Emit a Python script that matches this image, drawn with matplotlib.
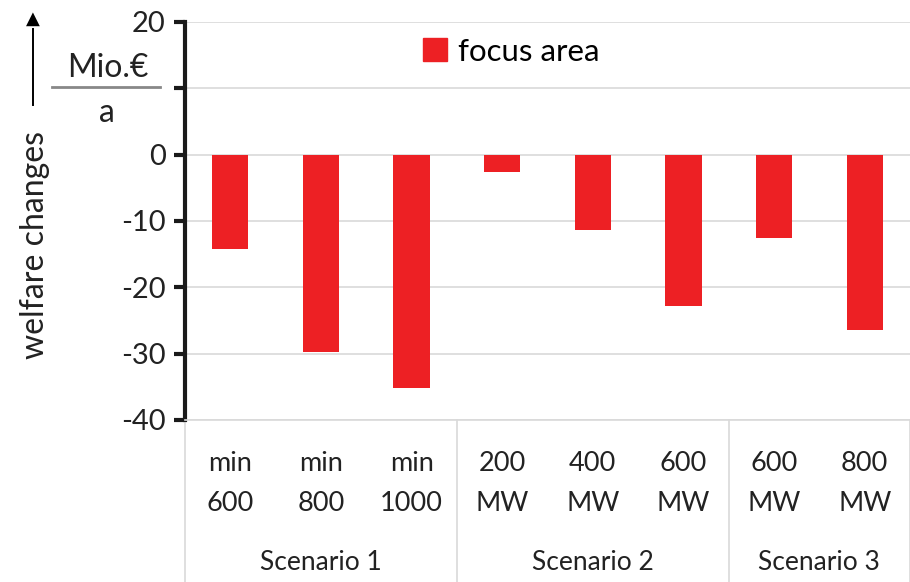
import numpy as np
import matplotlib.pyplot as plt
from matplotlib.patches import Patch

plt.rcParams['font.family'] = ['Lato', 'DejaVu Sans']

# data
categories = ['min\n600', 'min\n800', 'min\n1000',
              '200\nMW', '400\nMW', '600\nMW',
              '600\nMW', '800\nMW']
values = [-14.3, -29.7, -35.2, -2.6, -11.3, -22.8, -12.6, -26.4]
scenarios = ['Scenario 1', 'Scenario 2', 'Scenario 3']
scenario_sizes = [3, 3, 2]
yticks = [-40, -30, -20, -10, 0, 10, 20]

red = '#ED2024'
grid = '#d9d9d9'
txt = '#222222'

fig = plt.figure(figsize=(9.1, 5.82), dpi=100)
ax = fig.add_axes([0.2033, 0.2784, 0.7967, 0.684])

x = np.arange(len(values))
ax.bar(x, values, width=0.4, color=red, zorder=3, label='focus area')

ax.set_xlim(-0.5, len(values) - 0.5)
ax.set_ylim(-40, 20)
ax.set_yticks(yticks)
ax.set_yticklabels([str(t) if t != 10 else '' for t in yticks], fontsize=21, color=txt)
ax.yaxis.grid(True, color=grid, linewidth=1.2, zorder=0)

# category labels
ax.set_xticks(x)
ax.set_xticklabels(categories, fontsize=19.5, linespacing=1.75, color=txt)
ax.tick_params(axis='x', length=0, pad=22)
ax.tick_params(axis='y', length=8, width=3, color='#1a1a1a', pad=6)

for s in ['top', 'right']:
    ax.spines[s].set_visible(False)
ax.spines['left'].set_linewidth(3)
ax.spines['left'].set_color('#1a1a1a')
ax.spines['bottom'].set_color(grid)
ax.spines['bottom'].set_linewidth(1.2)

# separators between scenario groups and scenario labels
bounds = np.concatenate([[0], np.cumsum(scenario_sizes)]) - 0.5
for b in bounds:
    ax.plot([b, b], [-40, -64.5], color=grid, linewidth=1.2, clip_on=False)
for i, name in enumerate(scenarios):
    mid = (bounds[i] + bounds[i + 1]) / 2
    ax.text(mid, -61.5, name, ha='center', va='center', fontsize=19,
            color=txt, clip_on=False)

# legend
ax.legend(handles=[Patch(color=red)], labels=['focus area'], loc='center left',
          bbox_to_anchor=(0.29, 0.925), frameon=False, fontsize=22.5,
          handlelength=0.75, handleheight=0.75, handletextpad=0.35)

# y axis label with arrow and unit fraction
fig.text(0.038, 0.579, 'welfare changes', rotation=90, ha='center', va='center',
         fontsize=23, color=txt)
fig.add_artist(plt.Line2D([0.036, 0.036], [0.82, 0.95], color='black', linewidth=1.4))
fig.text(0.036, 0.968, '\u25B2', ha='center', va='center', fontsize=13)
fig.text(0.118, 0.883, 'Mio.€', ha='center', va='center', fontsize=23, color=txt)
fig.add_artist(plt.Line2D([0.057, 0.176], [0.851, 0.851], color='#888888', linewidth=2))
fig.text(0.118, 0.805, 'a', ha='center', va='center', fontsize=23, color=txt)

fig.savefig('out.png', dpi=100)
